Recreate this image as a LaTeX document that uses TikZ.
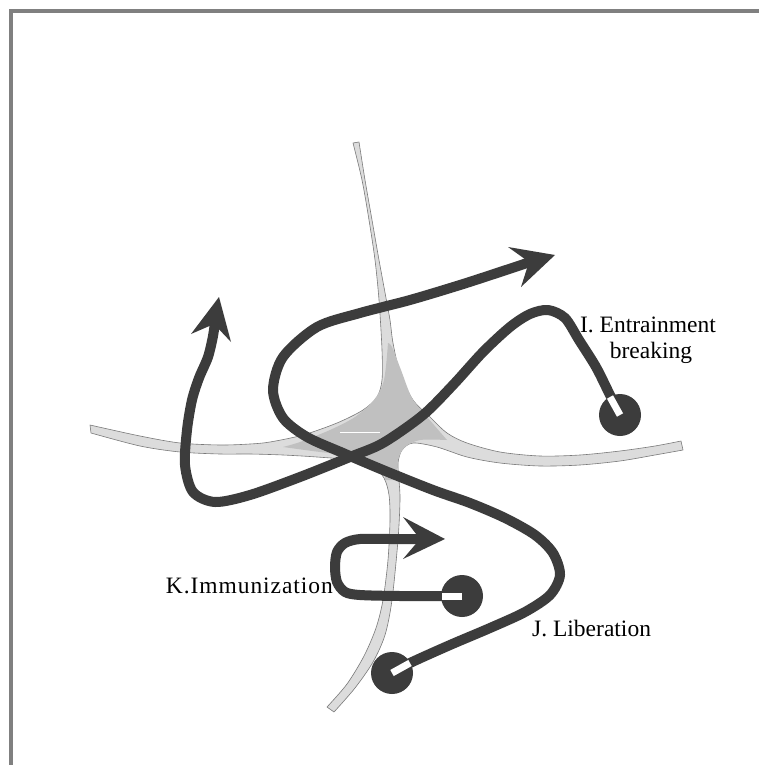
\documentclass[tikz,border=0pt]{standalone}
\usepackage{fontspec}
\setmainfont{Liberation Serif}
\definecolor{ink}{HTML}{3C3C3C}
\definecolor{chanfill}{HTML}{DCDCDC}
\definecolor{corefill}{HTML}{C0C0C0}
\definecolor{chanedge}{HTML}{7A7A7A}
\definecolor{framegray}{HTML}{808080}
\begin{document}
\begin{tikzpicture}[x=1pt,y=-1pt,
  chan/.style={fill=chanfill, draw=chanedge, line width=0.6pt, line join=round},
  core/.style={fill=corefill},
  track/.style={draw=ink, line width=10pt, line cap=butt, line join=round},
  head/.style={fill=ink},
  well/.style={fill=ink},
  tab/.style={draw=white, line width=7pt, line cap=butt},
  lbl/.style={font=\fontsize{23.5}{27}\selectfont, text=black, inner sep=0pt}
]
\useasboundingbox (0,0) rectangle (759,765);
\fill[white] (0,0) rectangle (759,765);

% frame on the top and left edges
\draw[framegray, line width=4pt] (11.3,765) -- (11.3,11.3) -- (759,11.3);

% four channels meeting at a junction
\path[chan]
  plot[smooth] coordinates {(359,142) (365,180) (372,220) (379,260) (386,298) (390,320) (393,343) (400,373) (413,400) (430,417) (447,433) (467,443) (500,452) (540,456) (580,455) (620,451) (655,446) (681,441)}
  -- plot[smooth] coordinates {(683,450) (655,455) (620,461) (580,465) (540,466) (500,463) (467,457) (437,447) (413,443) (402,450) (398,463) (399,480) (400,500) (398,540) (392,600) (385,635) (373,662) (355,688) (334,712)}
  -- plot[smooth] coordinates {(327,707) (347,684) (364,656) (376,628) (383,600) (388,560) (390,520) (389,495) (384,478) (373,467) (350,460) (317,457) (283,455) (250,454) (220,454) (180,452) (140,446) (91,433)}
  -- plot[smooth] coordinates {(90,425) (140,436) (180,443) (220,445) (250,444) (270,442) (303,435) (337,423) (363,410) (377,397) (382,380) (382,350) (379,300) (375,260) (369,220) (362,180) (353,143)}
  -- cycle;

% darker core of the junction
\path[core]
  plot[smooth] coordinates {(388,343) (384,380) (374,400) (355,417) (330,430) (300,442) (283,447)}
  -- plot[smooth] coordinates {(283,447) (320,452) (355,456) (375,462) (384,472) (385,480)}
  -- plot[smooth] coordinates {(397,480) (398,460) (405,447) (420,440) (447,440)}
  -- plot[smooth] coordinates {(447,440) (428,418) (412,398) (401,370) (392,347) (388,343)}
  -- cycle;
\draw[white, line width=0.8pt] (340,432) -- (380,432);

% track I: entrainment breaking
\coordinate (wI) at (620,415);
\coordinate (tipI) at (219,297);
\draw[track] plot[smooth] coordinates {(620,415) (609,393) (596,367) (579,340) (565,318) (548,310) (530,314) (510,327) (483,352) (453,385) (423,415) (383,443) (350,457) (300,477) (250,495) (215,502) (193,492) (185,465) (187,430) (192,400) (199,378) (208,357) (213,336) (215.5,318)};
\fill[head] (tipI) -- (231,342) -- (214,324) -- (191,334) -- cycle;
\fill[well] (wI) circle[radius=21pt];
\draw[tab] (wI) -- (610,397);

% track J: liberation
\coordinate (wJ) at (392,673);
\coordinate (tipJ) at (555,255);
\draw[track] plot[smooth] coordinates {(392,673) (410,663) (450,645) (490,628) (525,612) (550,595) (560,575) (553,553) (535,535) (505,518) (470,503) (433,490) (383,470) (343,453) (307,437) (283,418) (273,390) (283,357) (317,327) (360,313) (410,300) (460,285) (500,272) (536,260)};
\fill[head] (tipJ) -- (508,247) -- (529,262) -- (521,287) -- cycle;
\fill[well] (wJ) circle[radius=21pt];
\draw[tab] (wJ) -- (410,663);

% track K: immunization
\coordinate (wK) at (462,596);
\coordinate (tipK) at (445,539);
\draw[track] plot[smooth] coordinates {(462,596) (400,596) (360,595) (345,592) (337,582) (335,567) (337,552) (345,543) (360,539) (390,539) (428,539)};
\fill[head] (tipK) -- (403,517) -- (420,539) -- (403,559) -- cycle;
\fill[well] (wK) circle[radius=21pt];
\draw[tab] (wK) -- (442,596);

% labels
\node[lbl, anchor=base] (labI1) at (648,332) {I. Entrainment};
\node[lbl, anchor=base] (labI2) at (651,358) {breaking};
\node[lbl, anchor=base west] (labJ) at (532,636) {J. Liberation};
\node[lbl, anchor=base east] (labK) at (333,593) {\addfontfeature{LetterSpace=4}K.Immunization};
\end{tikzpicture}
\end{document}
